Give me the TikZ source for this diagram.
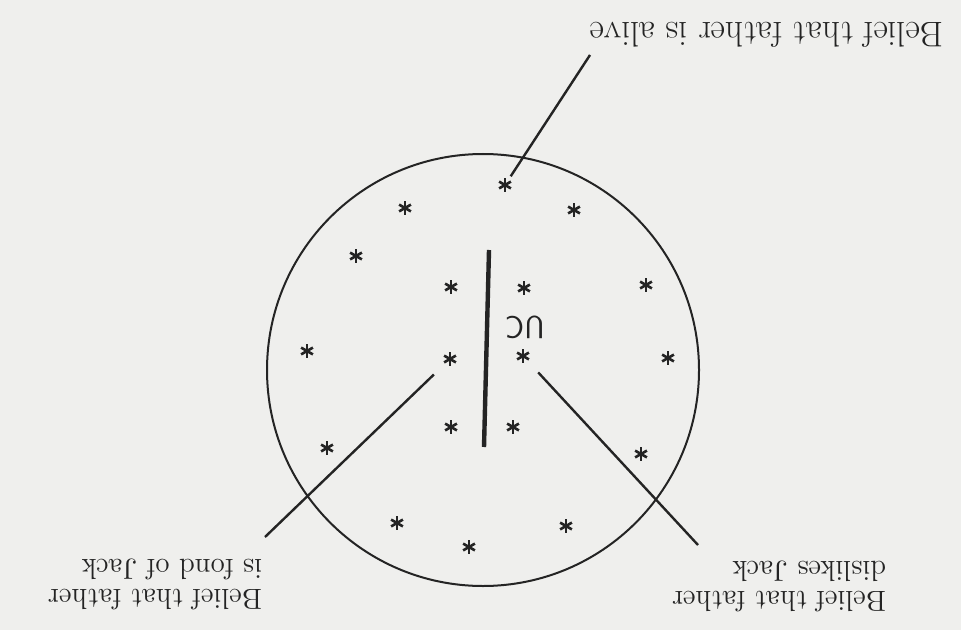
\documentclass[tikz,border=0pt]{standalone}
\usetikzlibrary{positioning}
\definecolor{paper}{RGB}{239,239,237}
\definecolor{ink}{RGB}{36,36,36}

\begin{document}
\begin{tikzpicture}[x=0.5pt, y=-0.5pt, color=ink,
  belief/.style={circle, inner sep=0pt, minimum size=10pt,
    path picture={\foreach \a/\b in {90/270,30/210,150/330}
      \draw[ink, line width=1.3pt] ([shift={(\a:3.4pt)}]path picture bounding box.center) -- ([shift={(\b:3.4pt)}]path picture bounding box.center);}},
  lbl/.style={rotate=180, align=left, inner sep=0pt, font=\fontsize{14.5}{15}\selectfont},
  link/.style={line width=1.2pt}]
\fill[paper] (0,0) rectangle (961,630);
\useasboundingbox (0,0) rectangle (961,630);
% the mind and its beliefs
\node[circle, draw, line width=1pt, inner sep=0pt, minimum size=216pt] (mind) at (483,370) {};
\draw[line width=2.2pt] (489,250) -- (484,447);
\node[rotate=180, inner sep=0pt, font=\sffamily\fontsize{16}{16}\selectfont] (uc) at (525,327) {UC};
\foreach \n/\p in {s1/{505,185}, s2/{574,210}, s3/{405,208}, s4/{356,256}, s5/{646,285},
    s6/{451,287}, s7/{524,288}, s8/{307,351}, s9/{450,359}, s10/{523,356}, s11/{668,358},
    s12/{451,427}, s13/{513,427}, s14/{327,448}, s15/{641,454}, s16/{397,523},
    s17/{566,526}, s18/{469,547}}
  \node[belief] (\n) at (\p) {};
% labels
\node[lbl, font=\fontsize{17.8}{18}\selectfont] (alive) at (767,35) {Belief that father is alive};
\node[lbl] (fond) at (155,584) {Belief that father\\is fond of Jack};
\node[lbl] (dislike) at (779,586) {Belief that father\\dislikes Jack};
\coordinate (aliveend) at (590,55);
\coordinate (fondend) at (265,537);
\coordinate (dislikeend) at (698,545);
\draw[link] (s1) -- (aliveend);
\draw[link, shorten <=6pt] (s9) -- (fondend);
\draw[link, shorten <=6pt] (s10) -- (dislikeend);
\end{tikzpicture}
\end{document}
